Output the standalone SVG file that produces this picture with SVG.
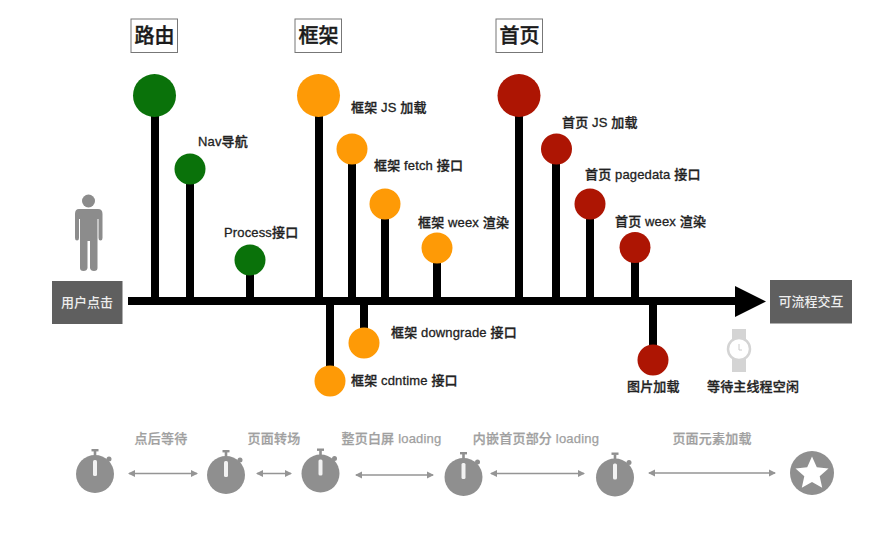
<svg xmlns="http://www.w3.org/2000/svg" width="886" height="536" viewBox="0 0 886 536">
<style>
text{font-family:"Liberation Sans","Noto Sans CJK SC",sans-serif}
.stem{stroke:#000;fill:none}
.s8{stroke-width:8}
.g{fill:#0a720a}.o{fill:#fe9a06}.r{fill:#ad1503}
.lb{font-size:13px;font-weight:500;fill:#222;stroke:#222;stroke-width:.3;letter-spacing:.15px}
.hd{font-size:20px;font-weight:500;fill:#1a1a1a;stroke:#1a1a1a;stroke-width:.4;text-anchor:middle}
.hb{fill:#fff;stroke:#777;stroke-width:1}
.box{fill:#5f5f5f}
.bt{font-size:13px;font-weight:500;fill:#eee;text-anchor:middle}
.ph{font-size:13px;fill:#a0a0a0;stroke:#a0a0a0;stroke-width:.25;text-anchor:middle;font-weight:500;letter-spacing:.2px}
.arr{stroke:#959595;stroke-width:1.6;fill:none;marker-start:url(#ga);marker-end:url(#ga)}
</style>
<defs>
<marker id="ga" viewBox="0 0 8 8" refX="6" refY="4" markerWidth="8" markerHeight="8" orient="auto-start-reverse" markerUnits="userSpaceOnUse"><path d="M0 0.5L7 4L0 7.5z" fill="#959595"/></marker>
<g id="watch">
<rect x="-3.500" y="-25" width="7" height="2.400" fill="#8f8f8f"/>
<rect x="-1.300" y="-23" width="2.600" height="5" fill="#8f8f8f"/>
<circle cx="14" cy="-15" r="2.500" fill="#8f8f8f"/>
<circle r="19" fill="#8f8f8f"/>
<rect x="-2" y="-14" width="4" height="16" rx="1.500" fill="#f2f2f2"/>
</g>
</defs>
<rect width="886" height="536" fill="#fff"/>

<g id="connectors">
<path class="stem s8" d="M128 301H740"/>
<path d="M735 286L766 301.500L735 317z" fill="#000"/>
<path class="stem s8" d="M155 100V301M190 170V301M250 260V301M319 100V301M352 150V301M385 205V301M437 250V301M519 100V301M556 150V301M590 205V301M635 250V301M330 301V380M364 301V342M653 301V360"/>
<path class="arr" d="M129 473.500H197"/>
<path class="arr" d="M257 473.500H291"/>
<path class="arr" d="M356 475H433"/>
<path class="arr" d="M491 473.500H584"/>
<path class="arr" d="M649 473H775"/>
</g>

<g id="head-route"><rect class="hb" x="131" y="19" width="46.500" height="33.500"/><text class="hd" x="154.500" y="43">路由</text></g>
<g id="head-frame"><rect class="hb" x="295" y="19" width="46.500" height="33.500"/><text class="hd" x="318.500" y="43">框架</text></g>
<g id="head-home"><rect class="hb" x="496" y="19" width="46.500" height="33.500"/><text class="hd" x="519.500" y="43">首页</text></g>

<g id="node-route"><circle class="g" cx="154.500" cy="95.500" r="21.500"/></g>
<g id="node-nav"><circle class="g" cx="190" cy="169" r="15.500"/><text class="lb" x="198" y="146">Nav导航</text></g>
<g id="node-process"><circle class="g" cx="250" cy="260" r="15.500"/><text class="lb" x="224" y="237">Process接口</text></g>

<g id="node-frame"><circle class="o" cx="318.500" cy="95.500" r="21.500"/><text class="lb" x="351" y="112">框架 JS 加载</text></g>
<g id="node-frame-fetch"><circle class="o" cx="352" cy="149" r="15.500"/><text class="lb" x="374" y="170">框架 fetch 接口</text></g>
<g id="node-frame-stage"><circle class="o" cx="385" cy="204" r="15.500"/></g>
<g id="node-frame-weex"><circle class="o" cx="437" cy="248" r="15.500"/><text class="lb" x="418" y="227">框架 weex 渲染</text></g>
<g id="node-downgrade"><circle class="o" cx="364" cy="343" r="15.500"/><text class="lb" x="391" y="337">框架 downgrade 接口</text></g>
<g id="node-cdntime"><circle class="o" cx="330" cy="381" r="15.500"/><text class="lb" x="351" y="385">框架 cdntime 接口</text></g>

<g id="node-home"><circle class="r" cx="519" cy="95.500" r="21.500"/></g>
<g id="node-home-js"><circle class="r" cx="556.500" cy="149" r="15.500"/><text class="lb" x="562" y="127">首页 JS 加载</text></g>
<g id="node-home-pagedata"><circle class="r" cx="590" cy="204" r="15.500"/><text class="lb" x="585" y="179">首页 pagedata 接口</text></g>
<g id="node-home-weex"><circle class="r" cx="635" cy="247.500" r="15.500"/><text class="lb" x="615" y="226">首页 weex 渲染</text></g>
<g id="node-image"><circle class="r" cx="653" cy="360" r="15.500"/><text class="lb" x="627" y="391">图片加载</text></g>

<g id="user">
<circle cx="88.500" cy="201" r="6.500" fill="#8c8c8c"/>
<path d="M79 209H98Q102.500 209 102.500 214V238Q102.500 240.500 100.500 240.500Q98.500 240.500 98.500 238V219H97.500V268Q97.500 271 94 271Q90.500 271 90 268V241H87.500V268Q87 271 83.500 271Q80 271 80 268V219H79V238Q79 240.500 77 240.500Q75 240.500 75 238V214Q75 209 79 209z" fill="#8c8c8c"/>
</g>
<g id="start"><rect class="box" x="52" y="281" width="70.500" height="43"/><text class="bt" x="87" y="307">用户点击</text></g>
<g id="end"><rect class="box" x="770" y="280" width="82" height="43.500"/><text class="bt" x="811" y="306">可流程交互</text></g>

<g id="idle">
<rect x="732" y="329" width="14" height="43" fill="#d4d4d4"/>
<circle cx="739" cy="349" r="11" fill="#fff" stroke="#d4d4d4" stroke-width="2.500"/>
<path d="M739 344V350H742" stroke="#ccc" stroke-width="1" fill="none"/>
<text class="lb" x="707" y="391">等待主线程空闲</text>
</g>

<g id="phase-labels">
<text class="ph" x="161" y="443">点后等待</text>
<text class="ph" x="274" y="443">页面转场</text>
<text class="ph" x="391.500" y="443">整页白屏 loading</text>
<text class="ph" x="536" y="443">内嵌首页部分 loading</text>
<text class="ph" x="712" y="443">页面元素加载</text>
</g>

<g id="timer-1"><use href="#watch" x="95" y="474"/></g>
<g id="timer-2"><use href="#watch" x="226" y="475"/></g>
<g id="timer-3"><use href="#watch" x="320.500" y="473.500"/></g>
<g id="timer-4"><use href="#watch" x="463.500" y="477"/></g>
<g id="timer-5"><use href="#watch" x="615" y="477.500"/></g>
<g id="finish">
<circle cx="812" cy="473" r="22" fill="#8f8f8f"/>
<path d="M812 456.500L816.800 467.300L828.500 468.500L819.700 476.300L822.200 487.800L812 481.900L801.800 487.800L804.300 476.300L795.500 468.500L807.200 467.300z" fill="#fff"/>
</g>
</svg>
